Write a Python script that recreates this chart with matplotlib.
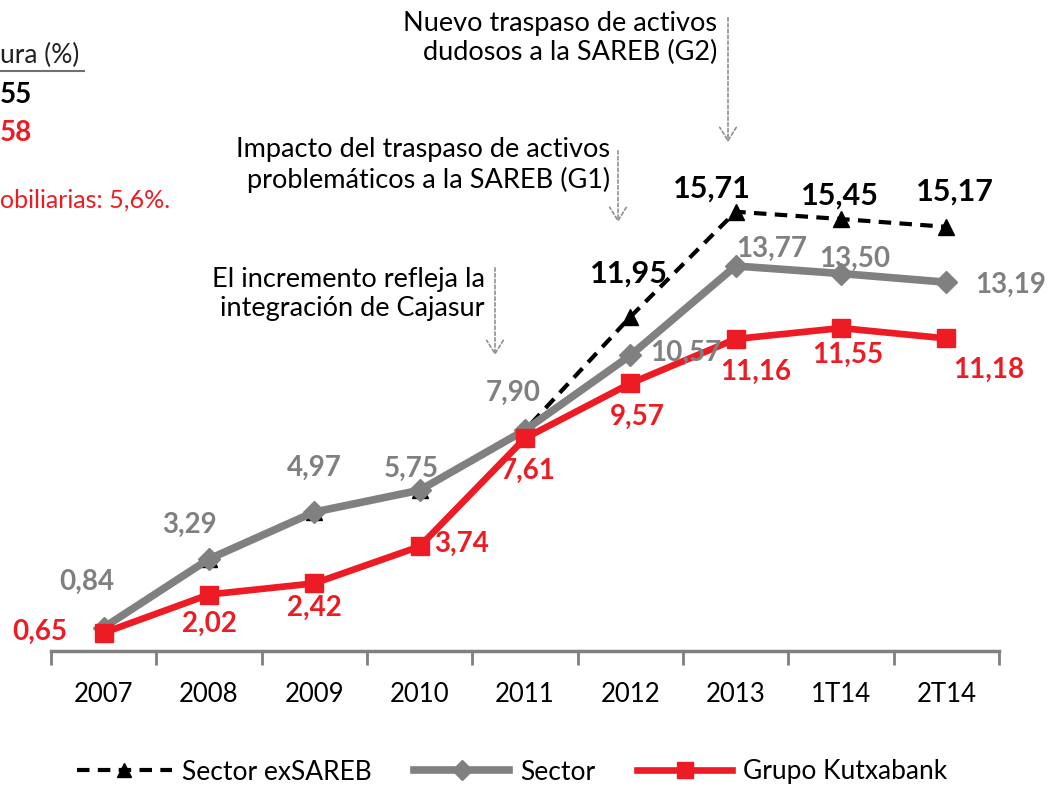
import matplotlib
matplotlib.use("Agg")
import matplotlib.pyplot as plt
from matplotlib.lines import Line2D

plt.rcParams['font.family'] = ['Lato', 'DejaVu Sans']

# ----- data -----
categories = ['2007', '2008', '2009', '2010', '2011', '2012', '2013', '1T14', '2T14']
sector = [0.84, 3.29, 4.97, 5.75, 7.90, 10.57, 13.77, 13.50, 13.19]
kutxabank = [0.65, 2.02, 2.42, 3.74, 7.61, 9.57, 11.16, 11.55, 11.18]
ex_sareb = [0.84, 3.29, 4.97, 5.75, 7.90, 11.95, 15.71, 15.45, 15.17]
ex_sareb_first_label = 5

# label offsets in pixels (dx, dy) relative to each point
sector_off = [(-17, 46), (-20, 34), (0, 44), (-8, 21), (-12, 37), (55, 3), (36, 17), (14, 15), (64, -3)]
kutxa_off = [(-64, 1), (0, -29), (0, -25), (42, 3), (3, -33), (7, -33), (20, -33), (7, -27), (42, -31)]
sareb_off = [(-1, 43), (-24, 23), (-1, 23), (9, 35)]

RED = '#ED1C24'
GRAY = '#808080'

fig = plt.figure(figsize=(10.48, 7.87), dpi=100)
ax = fig.add_axes([51 / 1048, 1 - 651 / 787, 948 / 1048, 651 / 787])
x = list(range(len(categories)))

ax.plot(x, ex_sareb, color='black', lw=3, ls=(0, (3, 2)), marker='^', ms=11, zorder=2)
ax.plot(x, sector, color=GRAY, lw=5.5, marker='D', ms=11, zorder=3)
ax.plot(x, kutxabank, color=RED, lw=4.8, marker='s', ms=12.5, zorder=4)

for i, v in enumerate(sector):
    ax.annotate(f'{v:.2f}'.replace('.', ','), (i, v), xytext=sector_off[i], textcoords='offset pixels',
                ha='center', va='center', fontsize=20, fontweight='bold', color=GRAY, zorder=5)
for i, v in enumerate(kutxabank):
    ax.annotate(f'{v:.2f}'.replace('.', ','), (i, v), xytext=kutxa_off[i], textcoords='offset pixels',
                ha='center', va='center', fontsize=20, fontweight='bold', color=RED, zorder=5)
for j, i in enumerate(range(ex_sareb_first_label, len(ex_sareb))):
    v = ex_sareb[i]
    ax.annotate(f'{v:.2f}'.replace('.', ','), (i, v), xytext=sareb_off[j], textcoords='offset pixels',
                ha='center', va='center', fontsize=22, fontweight='bold', color='black', zorder=5)

ax.set_xlim(-0.5, len(categories) - 0.5)
ax.set_ylim(0, 651 / 27.96)
ax.set_xticks([i - 0.5 for i in range(len(categories) + 1)], minor=False)
ax.set_xticklabels([])
ax.set_xticks(x, minor=True)
ax.set_xticklabels(categories, minor=True, fontsize=18.5)
ax.tick_params(axis='x', which='major', length=10, width=2, color=GRAY, direction='out')
ax.tick_params(axis='x', which='minor', length=0, pad=22)
ax.set_yticks([])
for s in ['top', 'right', 'left']:
    ax.spines[s].set_visible(False)
ax.spines['bottom'].set_color(GRAY)
ax.spines['bottom'].set_linewidth(2.5)
ax.patch.set_alpha(0)

# annotations with dotted arrows (figure pixel coordinates)
def px(xp, yp):
    return (xp / 1048, 1 - yp / 787)

notes = [
    ('Nuevo traspaso de activos\ndudosos a la SAREB (G2)', 717, 38, 728, 15, 145),
    ('Impacto del traspaso de activos\nproblemáticos a la SAREB (G1)', 610, 165, 618, 148, 225),
    ('El incremento refleja la\nintegración de Cajasur', 485, 294, 495, 265, 358),
]
for txt, tx, ty, axp, y0, y1 in notes:
    fig.text(*px(tx, ty), txt, ha='right', va='center', fontsize=19.5, linespacing=1.2)
    fig.add_artist(matplotlib.patches.FancyArrowPatch(
        px(axp, y0), px(axp, y1), transform=fig.transFigure, arrowstyle='->,head_length=0.8,head_width=0.5',
        color='#909090', lw=1.2, ls=(0, (2, 1.5)), mutation_scale=12))

# clipped side notes at left edge
fig.text(*px(0, 55), 'ura (%)', ha='left', va='center', fontsize=19, color='#222222')
fig.add_artist(Line2D([0, 84 / 1048], [1 - 71 / 787] * 2, color='#707070', lw=1.5, transform=fig.transFigure))
fig.text(*px(0, 95), '55', ha='left', va='center', fontsize=20, fontweight='bold', color='black')
fig.text(*px(0, 133), '58', ha='left', va='center', fontsize=20, fontweight='bold', color=RED)
fig.text(*px(0, 200), 'obiliarias: 5,6%.', ha='left', va='center', fontsize=18, color=RED)

handles = [
    Line2D([], [], color='black', lw=3, ls=(0, (3, 2)), marker='^', ms=10),
    Line2D([], [], color=GRAY, lw=5.5, marker='D', ms=10),
    Line2D([], [], color=RED, lw=4.8, marker='s', ms=12),
]
fig.legend(handles, ['Sector exSAREB', 'Sector', 'Grupo Kutxabank'], loc='center',
           bbox_to_anchor=(512 / 1048, 1 - 772 / 787), ncol=3, frameon=False, fontsize=19,
           handlelength=3.6, columnspacing=1.6, handletextpad=0.4)

fig.savefig('out.png', dpi=100)
